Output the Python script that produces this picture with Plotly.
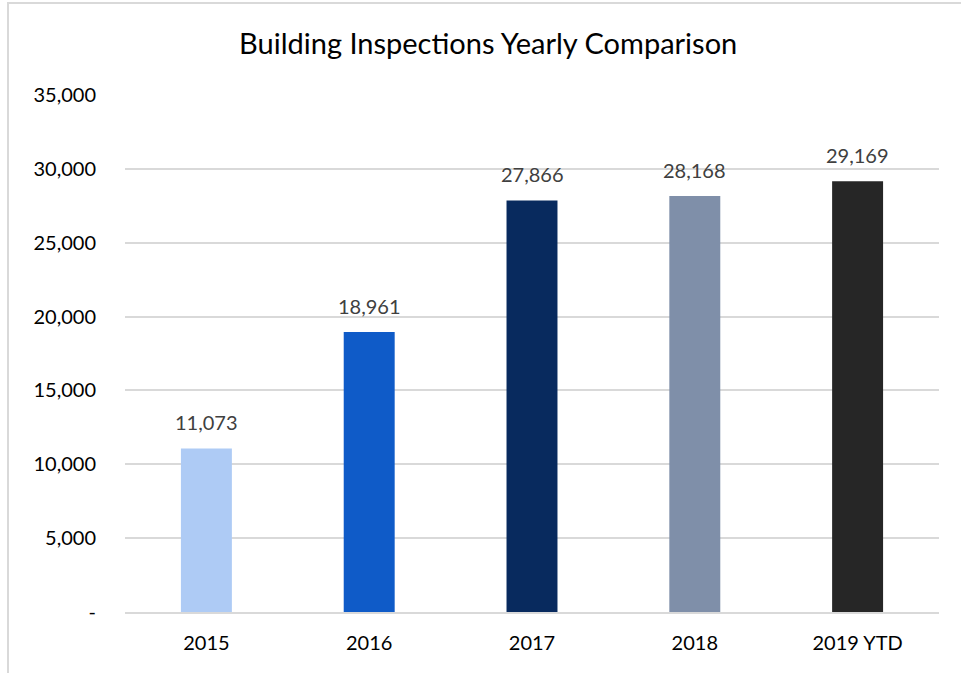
import plotly.graph_objects as go

categories = ["2015", "2016", "2017", "2018", "2019 YTD"]
values = [11073, 18961, 27866, 28168, 29169]
colors = ["#AECBF5", "#0F5BC8", "#082A5E", "#7F8FA9", "#262626"]
tick_vals = [0, 5000, 10000, 15000, 20000, 25000, 30000, 35000]
tick_text = ["-", "5,000", "10,000", "15,000", "20,000", "25,000", "30,000", "35,000"]

font = "Lato"

fig = go.Figure(go.Bar(
    x=categories, y=values,
    marker=dict(color=colors, line=dict(width=0)),
    hoverinfo="x+y",
))

# data labels; category axis positions are given as category indices
for i, v in enumerate(values):
    fig.add_annotation(x=i, y=v, text=f"{v:,}", showarrow=False,
                       yanchor="bottom", yshift=12,
                       font=dict(family=font, size=20, color="#404040"))

fig.update_layout(
    width=961, height=673,
    margin=dict(l=125, r=22, t=95, b=61),
    paper_bgcolor="white", plot_bgcolor="white",
    bargap=0.687,
    showlegend=False,
    title=dict(text="Building Inspections Yearly Comparison",
               x=0.508, xanchor="center", y=0.935, yanchor="middle",
               font=dict(family=font, size=29, color="#000000")),
    xaxis=dict(type="category", categoryarray=categories, showgrid=False,
               showline=True, linecolor="#D9D9D9", linewidth=2,
               tickfont=dict(family=font, size=20, color="#000000"),
               ticks="", ticklabelstandoff=12),
    yaxis=dict(range=[0, 35000], tickvals=tick_vals, ticktext=tick_text,
               showgrid=True, gridcolor="#D9D9D9", gridwidth=1.5,
               zeroline=False, showline=False, ticks="",
               tickfont=dict(family=font, size=20, color="#000000"),
               ticklabelstandoff=28),
    shapes=[dict(type="rect", xref="paper", yref="paper",
                 x0=(8-125)/814, x1=1.2, y0=-0.3, y1=(612-3)/517,
                 line=dict(color="#D9D9D9", width=2), fillcolor="rgba(0,0,0,0)",
                 layer="below")],
)

fig.write_html("out.html", config={"displayModeBar": False},
               post_script="document.body.style.margin='0';")
